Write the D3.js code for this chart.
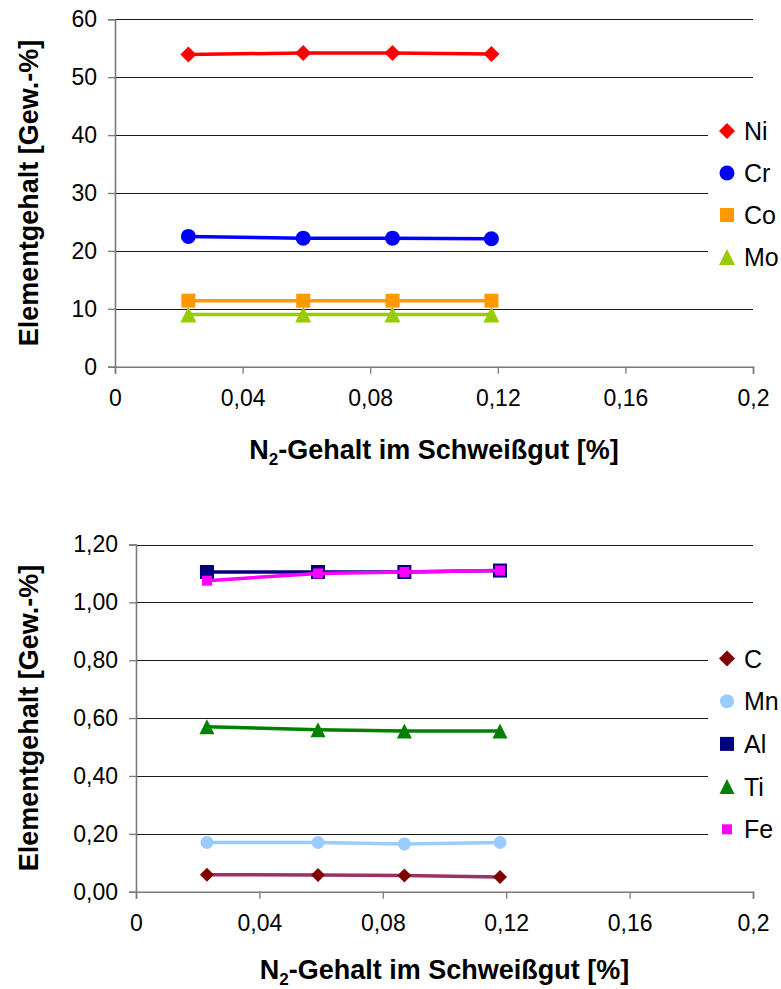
<!DOCTYPE html>
<html>
<head>
<meta charset="utf-8">
<script src="https://cdn.jsdelivr.net/npm/d3@7"></script>
<style>
  html, body { margin: 0; padding: 0; background: #fff; }
  svg { display: block; font-family: "Liberation Sans", Arial, sans-serif; }
</style>
</head>
<body>
<svg id="chart" width="781" height="989"></svg>
<script>
// N2 content in the weld metal (x) for the four samples
const nContent = [0.023, 0.059, 0.087, 0.118];

// Main alloying elements [wt.-%]
const niValues = [53.9, 54.2, 54.2, 54.0];
const crValues = [22.5, 22.2, 22.2, 22.1];
const coValues = [11.4, 11.4, 11.4, 11.4];
const moValues = [9.0, 9.0, 9.0, 9.0];

// Minor elements [wt.-%]
const cValues  = [0.059, 0.058, 0.056, 0.051];
const mnValues = [0.170, 0.170, 0.165, 0.170];
const alValues = [1.105, 1.105, 1.105, 1.110];
const tiValues = [0.570, 0.560, 0.555, 0.555];
const feValues = [1.075, 1.100, 1.105, 1.110];

// Axis ticks
const xTickValues = [0, 0.04, 0.08, 0.12, 0.16, 0.2];
const xTickLabels = ["0", "0,04", "0,08", "0,12", "0,16", "0,2"];
const topYTickValues = [0, 10, 20, 30, 40, 50, 60];
const topYTickLabels = ["0", "10", "20", "30", "40", "50", "60"];
const bottomYTickValues = [0, 0.2, 0.4, 0.6, 0.8, 1.0, 1.2];
const bottomYTickLabels = ["0,00", "0,20", "0,40", "0,60", "0,80", "1,00", "1,20"];

const xTitle = "-Gehalt im Schweißgut [%]";
const yTitle = "Elementgehalt [Gew.-%]";

const svg = d3.select("#chart");

// Marker path generators (Excel-like shapes)
function markerPath(shape, s) {
  const h = s / 2;
  switch (shape) {
    case "diamond": return `M0,${-h}L${h},0L0,${h}L${-h},0Z`;
    case "square": return `M${-h},${-h}H${h}V${h}H${-h}Z`;
    case "triangle": return `M0,${-h}L${h},${h}L${-h},${h}Z`;
    default: {
      return d3.symbol(d3.symbolCircle, Math.PI * h * h)();
    }
  }
}

function drawPanel(cfg) {
  const g = svg.append("g");
  const x = d3.scaleLinear().domain([0, 0.2]).range([cfg.left, cfg.right]);
  const y = d3.scaleLinear().domain(cfg.yDomain).range([cfg.bottom, cfg.top]);

  // horizontal gridlines
  g.append("g").selectAll("line")
    .data(cfg.yTicks.filter(v => v !== cfg.yDomain[0]))
    .join("line")
    .attr("x1", cfg.left).attr("x2", cfg.right)
    .attr("y1", d => Math.round(y(d)) + 0.5).attr("y2", d => Math.round(y(d)) + 0.5)
    .attr("stroke", "#1a1a1a").attr("stroke-width", 1);

  // y axis
  const yAxis = d3.axisLeft(y).tickValues(cfg.yTicks)
    .tickFormat((d, i) => cfg.yLabels[i]).tickSize(7).tickPadding(11);
  const ya = g.append("g").attr("transform", `translate(${cfg.left},0)`).call(yAxis);
  ya.select(".domain").attr("stroke", "#7a7a7a").attr("stroke-width", 1.6);
  ya.selectAll(".tick line").attr("stroke", "#7a7a7a").attr("stroke-width", 1.3);
  ya.selectAll(".tick text").attr("font-size", 23).attr("fill", "#000")
    .attr("font-family", "Liberation Sans, Arial, sans-serif");

  // x axis
  const xAxis = d3.axisBottom(x).tickValues(xTickValues)
    .tickFormat((d, i) => xTickLabels[i]).tickSize(7).tickPadding(16);
  const xa = g.append("g").attr("transform", `translate(0,${cfg.bottom})`).call(xAxis);
  xa.select(".domain").attr("stroke", "#7a7a7a").attr("stroke-width", 1.6);
  xa.selectAll(".tick line").attr("stroke", "#7a7a7a").attr("stroke-width", 1.3);
  xa.selectAll(".tick text").attr("font-size", 23).attr("fill", "#000")
    .attr("font-family", "Liberation Sans, Arial, sans-serif");

  // legend background covers the gridlines on the right
  g.append("rect")
    .attr("x", cfg.legendX).attr("y", cfg.legendTop)
    .attr("width", 781 - cfg.legendX).attr("height", cfg.legendBottom - cfg.legendTop)
    .attr("fill", "#fff");

  // series
  const line = d3.line().x((d, i) => x(nContent[i])).y(d => y(d));
  cfg.series.forEach(s => {
    const sg = g.append("g");
    sg.append("path").datum(s.values)
      .attr("d", line).attr("fill", "none")
      .attr("stroke", s.lineColor || s.color).attr("stroke-width", 3.5)
      .attr("stroke-linejoin", "round");
    sg.selectAll("path.m").data(s.values).join("path")
      .attr("class", "m")
      .attr("transform", (d, i) => `translate(${x(nContent[i])},${y(d)})`)
      .attr("d", markerPath(s.shape, s.size))
      .attr("fill", s.color)
      .attr("stroke", s.edge || "none").attr("stroke-width", 1);
  });

  // legend entries
  cfg.series.forEach((s, i) => {
    const ly = cfg.legendFirst + i * cfg.legendStep;
    g.append("path")
      .attr("transform", `translate(${cfg.legendX + 19},${ly})`)
      .attr("d", markerPath(s.shape, s.legendSize))
      .attr("fill", s.color);
    g.append("text")
      .attr("x", cfg.legendX + 36).attr("y", ly)
      .attr("dy", "0.36em")
      .attr("font-size", 25).attr("fill", "#000")
      .text(s.name);
  });

  // axis titles
  const xt = g.append("text")
    .attr("x", (cfg.left + cfg.right) / 2).attr("y", cfg.bottom + cfg.xTitleOffset)
    .attr("text-anchor", "middle").attr("font-size", 27).attr("font-weight", "bold");
  xt.append("tspan").text("N");
  xt.append("tspan").attr("font-size", 17).attr("dy", 6).text("2");
  xt.append("tspan").attr("dy", -6).text(xTitle);

  g.append("text")
    .attr("transform", `translate(${cfg.yTitleX},${(cfg.top + cfg.bottom) / 2}) rotate(-90)`)
    .attr("text-anchor", "middle").attr("font-size", 27).attr("font-weight", "bold")
    .text(yTitle);
}

drawPanel({
  left: 115, right: 753, top: 19.3, bottom: 366.7,
  yDomain: [0, 60], yTicks: topYTickValues, yLabels: topYTickLabels,
  legendX: 708, legendTop: 92, legendBottom: 296,
  legendFirst: 131, legendStep: 42, yTitleX: 38, xTitleOffset: 92,
  series: [
    { name: "Ni", values: niValues, color: "#ff0000", shape: "diamond", size: 16, legendSize: 16 },
    { name: "Cr", values: crValues, color: "#0000ff", shape: "circle", size: 15, legendSize: 15 },
    { name: "Co", values: coValues, color: "#ff9900", shape: "square", size: 14, legendSize: 14 },
    { name: "Mo", values: moValues, color: "#99cc00", shape: "triangle", size: 16, legendSize: 16 }
  ]
});

drawPanel({
  left: 136, right: 753, top: 544.5, bottom: 891.7,
  yDomain: [0, 1.2], yTicks: bottomYTickValues, yLabels: bottomYTickLabels,
  legendX: 708, legendTop: 618, legendBottom: 852,
  legendFirst: 658.5, legendStep: 42.7, yTitleX: 38, xTitleOffset: 87,
  series: [
    { name: "C", values: cValues, color: "#800000", lineColor: "#993366", shape: "diamond", size: 14, legendSize: 16 },
    { name: "Mn", values: mnValues, color: "#99ccff", shape: "circle", size: 13, legendSize: 14 },
    { name: "Al", values: alValues, color: "#000080", shape: "square", size: 14, legendSize: 14 },
    { name: "Ti", values: tiValues, color: "#008000", shape: "triangle", size: 15, legendSize: 15 },
    { name: "Fe", values: feValues, color: "#ff00ff", shape: "square", size: 10, legendSize: 10 }
  ]
});
</script>
</body>
</html>
